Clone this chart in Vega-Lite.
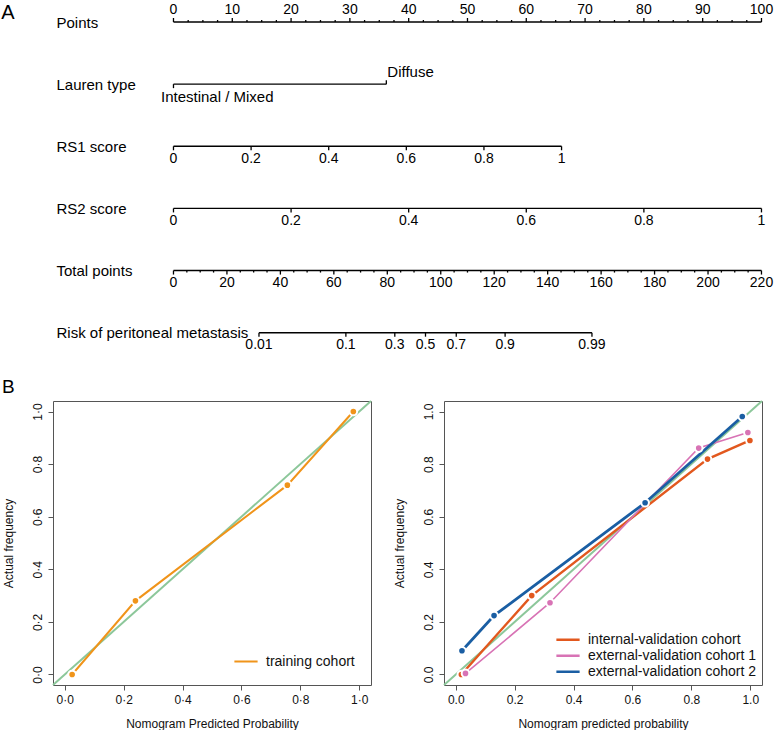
{
  "$schema": "https://vega.github.io/schema/vega-lite/v6.json",
  "padding": {"left": 1, "top": 0, "right": 0, "bottom": 0},
  "bounds": "flush",
  "spacing": 41,
  "resolve": {"scale": {"x": "independent", "y": "independent", "stroke": "independent", "fill": "independent"}, "legend": {"stroke": "independent"}},
  "datasets": {
    "lines": [
      {"axis": "Points", "from": 0, "to": 100},
      {"axis": "Lauren type", "from": 0, "to": 36.2},
      {"axis": "RS1 score", "from": 0, "to": 66},
      {"axis": "RS2 score", "from": 0, "to": 100},
      {"axis": "Total points", "from": 0, "to": 100},
      {"axis": "Risk of peritoneal metastasis", "from": 14.54, "to": 71.17}
    ],
    "ticks": [
      {"axis": "Points", "pts": 0, "tick": "up-major", "label": "0", "side": "above"},
      {"axis": "Points", "pts": 10, "tick": "up-major", "label": "10", "side": "above"},
      {"axis": "Points", "pts": 20, "tick": "up-major", "label": "20", "side": "above"},
      {"axis": "Points", "pts": 30, "tick": "up-major", "label": "30", "side": "above"},
      {"axis": "Points", "pts": 40, "tick": "up-major", "label": "40", "side": "above"},
      {"axis": "Points", "pts": 50, "tick": "up-major", "label": "50", "side": "above"},
      {"axis": "Points", "pts": 60, "tick": "up-major", "label": "60", "side": "above"},
      {"axis": "Points", "pts": 70, "tick": "up-major", "label": "70", "side": "above"},
      {"axis": "Points", "pts": 80, "tick": "up-major", "label": "80", "side": "above"},
      {"axis": "Points", "pts": 90, "tick": "up-major", "label": "90", "side": "above"},
      {"axis": "Points", "pts": 100, "tick": "up-major", "label": "100", "side": "above"},
      {"axis": "Points", "pts": 2.5, "tick": "up-minor"},
      {"axis": "Points", "pts": 5, "tick": "up-minor"},
      {"axis": "Points", "pts": 7.5, "tick": "up-minor"},
      {"axis": "Points", "pts": 12.5, "tick": "up-minor"},
      {"axis": "Points", "pts": 15, "tick": "up-minor"},
      {"axis": "Points", "pts": 17.5, "tick": "up-minor"},
      {"axis": "Points", "pts": 22.5, "tick": "up-minor"},
      {"axis": "Points", "pts": 25, "tick": "up-minor"},
      {"axis": "Points", "pts": 27.5, "tick": "up-minor"},
      {"axis": "Points", "pts": 32.5, "tick": "up-minor"},
      {"axis": "Points", "pts": 35, "tick": "up-minor"},
      {"axis": "Points", "pts": 37.5, "tick": "up-minor"},
      {"axis": "Points", "pts": 42.5, "tick": "up-minor"},
      {"axis": "Points", "pts": 45, "tick": "up-minor"},
      {"axis": "Points", "pts": 47.5, "tick": "up-minor"},
      {"axis": "Points", "pts": 52.5, "tick": "up-minor"},
      {"axis": "Points", "pts": 55, "tick": "up-minor"},
      {"axis": "Points", "pts": 57.5, "tick": "up-minor"},
      {"axis": "Points", "pts": 62.5, "tick": "up-minor"},
      {"axis": "Points", "pts": 65, "tick": "up-minor"},
      {"axis": "Points", "pts": 67.5, "tick": "up-minor"},
      {"axis": "Points", "pts": 72.5, "tick": "up-minor"},
      {"axis": "Points", "pts": 75, "tick": "up-minor"},
      {"axis": "Points", "pts": 77.5, "tick": "up-minor"},
      {"axis": "Points", "pts": 82.5, "tick": "up-minor"},
      {"axis": "Points", "pts": 85, "tick": "up-minor"},
      {"axis": "Points", "pts": 87.5, "tick": "up-minor"},
      {"axis": "Points", "pts": 92.5, "tick": "up-minor"},
      {"axis": "Points", "pts": 95, "tick": "up-minor"},
      {"axis": "Points", "pts": 97.5, "tick": "up-minor"},
      {"axis": "Lauren type", "pts": 0, "tick": "down-major", "label": "Intestinal / Mixed", "side": "catBelow"},
      {"axis": "Lauren type", "pts": 36.2, "tick": "up-major", "label": "Diffuse", "side": "catAbove"},
      {"axis": "RS1 score", "pts": 0, "tick": "down-major", "label": "0", "side": "below"},
      {"axis": "RS1 score", "pts": 13.2, "tick": "down-major", "label": "0.2", "side": "below"},
      {"axis": "RS1 score", "pts": 26.4, "tick": "down-major", "label": "0.4", "side": "below"},
      {"axis": "RS1 score", "pts": 39.6, "tick": "down-major", "label": "0.6", "side": "below"},
      {"axis": "RS1 score", "pts": 52.8, "tick": "down-major", "label": "0.8", "side": "below"},
      {"axis": "RS1 score", "pts": 66, "tick": "down-major", "label": "1", "side": "below"},
      {"axis": "RS2 score", "pts": 0, "tick": "down-major", "label": "0", "side": "below"},
      {"axis": "RS2 score", "pts": 20, "tick": "down-major", "label": "0.2", "side": "below"},
      {"axis": "RS2 score", "pts": 40, "tick": "down-major", "label": "0.4", "side": "below"},
      {"axis": "RS2 score", "pts": 60, "tick": "down-major", "label": "0.6", "side": "below"},
      {"axis": "RS2 score", "pts": 80, "tick": "down-major", "label": "0.8", "side": "below"},
      {"axis": "RS2 score", "pts": 100, "tick": "down-major", "label": "1", "side": "below"},
      {"axis": "Total points", "pts": 0, "tick": "down-major", "label": "0", "side": "below"},
      {"axis": "Total points", "pts": 9.091, "tick": "down-major", "label": "20", "side": "below"},
      {"axis": "Total points", "pts": 18.182, "tick": "down-major", "label": "40", "side": "below"},
      {"axis": "Total points", "pts": 27.273, "tick": "down-major", "label": "60", "side": "below"},
      {"axis": "Total points", "pts": 36.364, "tick": "down-major", "label": "80", "side": "below"},
      {"axis": "Total points", "pts": 45.455, "tick": "down-major", "label": "100", "side": "below"},
      {"axis": "Total points", "pts": 54.545, "tick": "down-major", "label": "120", "side": "below"},
      {"axis": "Total points", "pts": 63.636, "tick": "down-major", "label": "140", "side": "below"},
      {"axis": "Total points", "pts": 72.727, "tick": "down-major", "label": "160", "side": "below"},
      {"axis": "Total points", "pts": 81.818, "tick": "down-major", "label": "180", "side": "below"},
      {"axis": "Total points", "pts": 90.909, "tick": "down-major", "label": "200", "side": "below"},
      {"axis": "Total points", "pts": 100, "tick": "down-major", "label": "220", "side": "below"},
      {"axis": "Total points", "pts": 2.273, "tick": "down-minor"},
      {"axis": "Total points", "pts": 4.545, "tick": "down-minor"},
      {"axis": "Total points", "pts": 6.818, "tick": "down-minor"},
      {"axis": "Total points", "pts": 11.364, "tick": "down-minor"},
      {"axis": "Total points", "pts": 13.636, "tick": "down-minor"},
      {"axis": "Total points", "pts": 15.909, "tick": "down-minor"},
      {"axis": "Total points", "pts": 20.455, "tick": "down-minor"},
      {"axis": "Total points", "pts": 22.727, "tick": "down-minor"},
      {"axis": "Total points", "pts": 25.0, "tick": "down-minor"},
      {"axis": "Total points", "pts": 29.545, "tick": "down-minor"},
      {"axis": "Total points", "pts": 31.818, "tick": "down-minor"},
      {"axis": "Total points", "pts": 34.091, "tick": "down-minor"},
      {"axis": "Total points", "pts": 38.636, "tick": "down-minor"},
      {"axis": "Total points", "pts": 40.909, "tick": "down-minor"},
      {"axis": "Total points", "pts": 43.182, "tick": "down-minor"},
      {"axis": "Total points", "pts": 47.727, "tick": "down-minor"},
      {"axis": "Total points", "pts": 50.0, "tick": "down-minor"},
      {"axis": "Total points", "pts": 52.273, "tick": "down-minor"},
      {"axis": "Total points", "pts": 56.818, "tick": "down-minor"},
      {"axis": "Total points", "pts": 59.091, "tick": "down-minor"},
      {"axis": "Total points", "pts": 61.364, "tick": "down-minor"},
      {"axis": "Total points", "pts": 65.909, "tick": "down-minor"},
      {"axis": "Total points", "pts": 68.182, "tick": "down-minor"},
      {"axis": "Total points", "pts": 70.455, "tick": "down-minor"},
      {"axis": "Total points", "pts": 75.0, "tick": "down-minor"},
      {"axis": "Total points", "pts": 77.273, "tick": "down-minor"},
      {"axis": "Total points", "pts": 79.545, "tick": "down-minor"},
      {"axis": "Total points", "pts": 84.091, "tick": "down-minor"},
      {"axis": "Total points", "pts": 86.364, "tick": "down-minor"},
      {"axis": "Total points", "pts": 88.636, "tick": "down-minor"},
      {"axis": "Total points", "pts": 93.182, "tick": "down-minor"},
      {"axis": "Total points", "pts": 95.455, "tick": "down-minor"},
      {"axis": "Total points", "pts": 97.727, "tick": "down-minor"},
      {"axis": "Risk of peritoneal metastasis", "pts": 14.54, "tick": "down-major", "label": "0.01", "side": "below"},
      {"axis": "Risk of peritoneal metastasis", "pts": 29.32, "tick": "down-major", "label": "0.1", "side": "below"},
      {"axis": "Risk of peritoneal metastasis", "pts": 37.64, "tick": "down-major", "label": "0.3", "side": "below"},
      {"axis": "Risk of peritoneal metastasis", "pts": 42.86, "tick": "down-major", "label": "0.5", "side": "below"},
      {"axis": "Risk of peritoneal metastasis", "pts": 48.09, "tick": "down-major", "label": "0.7", "side": "below"},
      {"axis": "Risk of peritoneal metastasis", "pts": 56.40, "tick": "down-major", "label": "0.9", "side": "below"},
      {"axis": "Risk of peritoneal metastasis", "pts": 71.17, "tick": "down-major", "label": "0.99", "side": "below"}
    ],
    "calib": [
      {"panel": "train", "cohort": "training cohort", "pred": 0.025, "actual": 0.0},
      {"panel": "train", "cohort": "training cohort", "pred": 0.24, "actual": 0.28},
      {"panel": "train", "cohort": "training cohort", "pred": 0.756, "actual": 0.72},
      {"panel": "train", "cohort": "training cohort", "pred": 0.98, "actual": 1.0},
      {"panel": "valid", "cohort": "internal-validation cohort", "pred": 0.019, "actual": 0.0},
      {"panel": "valid", "cohort": "internal-validation cohort", "pred": 0.258, "actual": 0.30},
      {"panel": "valid", "cohort": "internal-validation cohort", "pred": 0.855, "actual": 0.819},
      {"panel": "valid", "cohort": "internal-validation cohort", "pred": 0.999, "actual": 0.89},
      {"panel": "valid", "cohort": "external-validation cohort 1", "pred": 0.033, "actual": 0.004},
      {"panel": "valid", "cohort": "external-validation cohort 1", "pred": 0.32, "actual": 0.273},
      {"panel": "valid", "cohort": "external-validation cohort 1", "pred": 0.825, "actual": 0.861},
      {"panel": "valid", "cohort": "external-validation cohort 1", "pred": 0.992, "actual": 0.92},
      {"panel": "valid", "cohort": "external-validation cohort 2", "pred": 0.021, "actual": 0.09},
      {"panel": "valid", "cohort": "external-validation cohort 2", "pred": 0.13, "actual": 0.224},
      {"panel": "valid", "cohort": "external-validation cohort 2", "pred": 0.643, "actual": 0.653},
      {"panel": "valid", "cohort": "external-validation cohort 2", "pred": 0.973, "actual": 0.981}
    ]
  },
  "vconcat": [
    {
      "width": 724,
      "height": 360,
      "view": {"stroke": null},
      "encoding": {
        "y": {
          "field": "axis",
          "type": "nominal",
          "scale": {"type": "point", "domain": ["Points", "Lauren type", "RS1 score", "RS2 score", "Total points", "Risk of peritoneal metastasis"], "range": [22, 332.7], "padding": 0},
          "axis": {"title": null, "domain": false, "ticks": false, "tickSize": 0, "labelAlign": "left", "labelBaseline": "middle", "labelAngle": 0, "labelPadding": -3, "labelFontSize": 15, "labelLimit": 400, "labelColor": "black"}
        }
      },
      "layer": [
        {
          "data": {"name": "lines"},
          "mark": {"type": "rule", "color": "black", "strokeWidth": 1.4},
          "encoding": {
            "x": {"field": "from", "type": "quantitative", "scale": {"domain": [-20.49, 102.64], "nice": false, "zero": false}, "axis": null},
            "x2": {"field": "to"}
          }
        },
        {
          "data": {"name": "ticks"},
          "transform": [{"filter": "datum.tick == 'up-major'"}],
          "mark": {"type": "rule", "color": "black", "strokeWidth": 1.3, "y2Offset": -4},
          "encoding": {
            "x": {"field": "pts", "type": "quantitative", "scale": {"domain": [-20.49, 102.64], "nice": false, "zero": false}, "axis": null},
            "y2": {"field": "axis"}
          }
        },
        {
          "data": {"name": "ticks"},
          "transform": [{"filter": "datum.tick == 'up-minor'"}],
          "mark": {"type": "rule", "color": "black", "strokeWidth": 1.3, "y2Offset": -2},
          "encoding": {
            "x": {"field": "pts", "type": "quantitative", "scale": {"domain": [-20.49, 102.64], "nice": false, "zero": false}, "axis": null},
            "y2": {"field": "axis"}
          }
        },
        {
          "data": {"name": "ticks"},
          "transform": [{"filter": "datum.tick == 'down-major'"}],
          "mark": {"type": "rule", "color": "black", "strokeWidth": 1.3, "y2Offset": 4},
          "encoding": {
            "x": {"field": "pts", "type": "quantitative", "scale": {"domain": [-20.49, 102.64], "nice": false, "zero": false}, "axis": null},
            "y2": {"field": "axis"}
          }
        },
        {
          "data": {"name": "ticks"},
          "transform": [{"filter": "datum.tick == 'down-minor'"}],
          "mark": {"type": "rule", "color": "black", "strokeWidth": 1.3, "y2Offset": 2},
          "encoding": {
            "x": {"field": "pts", "type": "quantitative", "scale": {"domain": [-20.49, 102.64], "nice": false, "zero": false}, "axis": null},
            "y2": {"field": "axis"}
          }
        },
        {
          "data": {"name": "ticks"},
          "transform": [{"filter": "datum.side == 'above'"}],
          "mark": {"type": "text", "color": "black", "fontSize": 14, "align": "center", "baseline": "middle", "dy": -12},
          "encoding": {
            "x": {"field": "pts", "type": "quantitative", "scale": {"domain": [-20.49, 102.64], "nice": false, "zero": false}, "axis": null},
            "text": {"field": "label"}
          }
        },
        {
          "data": {"name": "ticks"},
          "transform": [{"filter": "datum.side == 'below'"}],
          "mark": {"type": "text", "color": "black", "fontSize": 14, "align": "center", "baseline": "middle", "dy": 12.7},
          "encoding": {
            "x": {"field": "pts", "type": "quantitative", "scale": {"domain": [-20.49, 102.64], "nice": false, "zero": false}, "axis": null},
            "text": {"field": "label"}
          }
        },
        {
          "data": {"name": "ticks"},
          "transform": [{"filter": "datum.side == 'catAbove'"}],
          "mark": {"type": "text", "color": "black", "fontSize": 15, "align": "left", "baseline": "middle", "dy": -12.3, "dx": 1},
          "encoding": {
            "x": {"field": "pts", "type": "quantitative", "scale": {"domain": [-20.49, 102.64], "nice": false, "zero": false}, "axis": null},
            "text": {"field": "label"}
          }
        },
        {
          "data": {"name": "ticks"},
          "transform": [{"filter": "datum.side == 'catBelow'"}],
          "mark": {"type": "text", "color": "black", "fontSize": 15, "align": "left", "baseline": "middle", "dy": 13.3, "dx": -12.5},
          "encoding": {
            "x": {"field": "pts", "type": "quantitative", "scale": {"domain": [-20.49, 102.64], "nice": false, "zero": false}, "axis": null},
            "text": {"field": "label"}
          }
        },
        {
          "data": {"values": [{}]},
          "mark": {"type": "text", "text": "A", "color": "black", "fontSize": 20, "align": "left", "baseline": "alphabetic", "dy": -3},
          "encoding": {
            "x": {"datum": -29.3, "type": "quantitative", "scale": {"domain": [-20.49, 102.64], "nice": false, "zero": false}, "axis": null},
            "y": {"datum": "Points"}
          }
        }
      ]
    },
    {
      "hconcat": [
        {
          "width": 318,
          "height": 284,
          "layer": [
            {
              "data": {"values": [{}]},
              "mark": {"type": "rule", "color": "#8CC79A", "strokeWidth": 2},
              "encoding": {
                "x": {"datum": -0.04, "type": "quantitative", "scale": {"domain": [-0.04, 1.04], "nice": false, "zero": false},
                  "axis": {"values": [0, 0.2, 0.4, 0.6, 0.8, 1], "labelExpr": "replace(format(datum.value, '.1f'), '.', '·')", "title": "Nomogram Predicted Probability", "labelPadding": 4, "titlePadding": 13}},
                "y": {"datum": -0.04, "type": "quantitative", "scale": {"domain": [-0.04, 1.04], "nice": false, "zero": false},
                  "axis": {"values": [0, 0.2, 0.4, 0.6, 0.8, 1], "labelExpr": "replace(format(datum.value, '.1f'), '.', '·')", "title": "Actual frequency", "labelPadding": 4, "titlePadding": 16}},
                "x2": {"datum": 1.04},
                "y2": {"datum": 1.04}
              }
            },
            {
              "data": {"name": "calib"},
              "transform": [{"filter": "datum.panel == 'train'"}],
              "mark": {"type": "line", "strokeWidth": 2},
              "encoding": {
                "x": {"field": "pred", "type": "quantitative", "scale": {"domain": [-0.04, 1.04], "nice": false, "zero": false}},
                "y": {"field": "actual", "type": "quantitative", "scale": {"domain": [-0.04, 1.04], "nice": false, "zero": false}},
                "stroke": {"field": "cohort", "type": "nominal", "scale": {"domain": ["training cohort"], "range": ["#F0941A"]},
                  "legend": {"title": null, "orient": "bottom-right", "offset": 16, "symbolType": "stroke", "symbolSize": 540, "symbolStrokeWidth": 2, "labelFontSize": 14, "labelOffset": 7, "padding": 0, "labelLimit": 400, "rowPadding": 0, "clipHeight": 15, "labelColor": "#111"}}
              }
            },
            {
              "data": {"name": "calib"},
              "transform": [{"filter": "datum.panel == 'train'"}],
              "mark": {"type": "point", "filled": true, "size": 58, "stroke": "white", "strokeWidth": 2, "opacity": 1},
              "encoding": {
                "x": {"field": "pred", "type": "quantitative", "scale": {"domain": [-0.04, 1.04], "nice": false, "zero": false}},
                "y": {"field": "actual", "type": "quantitative", "scale": {"domain": [-0.04, 1.04], "nice": false, "zero": false}},
                "fill": {"field": "cohort", "type": "nominal", "scale": {"domain": ["training cohort"], "range": ["#F0941A"]}, "legend": null}
              }
            },
            {
              "data": {"values": [{}]},
              "mark": {"type": "text", "text": "B", "color": "black", "fontSize": 19, "align": "left", "baseline": "alphabetic"},
              "encoding": {
                "x": {"datum": -0.213, "type": "quantitative"},
                "y": {"datum": 1.0693, "type": "quantitative"}
              }
            }
          ]
        },
        {
          "width": 318,
          "height": 284,
          "layer": [
            {
              "data": {"values": [{}]},
              "mark": {"type": "rule", "color": "#8CC79A", "strokeWidth": 2},
              "encoding": {
                "x": {"datum": -0.04, "type": "quantitative", "scale": {"domain": [-0.04, 1.04], "nice": false, "zero": false},
                  "axis": {"values": [0, 0.2, 0.4, 0.6, 0.8, 1], "format": ".1f", "title": "Nomogram predicted probability", "labelPadding": 4, "titlePadding": 13}},
                "y": {"datum": -0.04, "type": "quantitative", "scale": {"domain": [-0.04, 1.04], "nice": false, "zero": false},
                  "axis": {"values": [0, 0.2, 0.4, 0.6, 0.8, 1], "format": ".1f", "title": "Actual frequency", "labelPadding": 4, "titlePadding": 16}},
                "x2": {"datum": 1.04},
                "y2": {"datum": 1.04}
              }
            },
            {
              "data": {"name": "calib"},
              "transform": [{"filter": "datum.cohort == 'internal-validation cohort'"}],
              "mark": {"type": "line", "strokeWidth": 2.4},
              "encoding": {
                "x": {"field": "pred", "type": "quantitative", "scale": {"domain": [-0.04, 1.04], "nice": false, "zero": false}},
                "y": {"field": "actual", "type": "quantitative", "scale": {"domain": [-0.04, 1.04], "nice": false, "zero": false}},
                "stroke": {"field": "cohort", "type": "nominal",
                  "scale": {"domain": ["internal-validation cohort", "external-validation cohort 1", "external-validation cohort 2"], "range": ["#E2581E", "#D873B5", "#1A5EA3"]},
                  "legend": {"title": null, "orient": "bottom-right", "offset": 5, "symbolType": "stroke", "symbolSize": 540, "symbolStrokeWidth": 2.4, "labelFontSize": 14, "labelOffset": 7, "padding": 0, "labelLimit": 400, "rowPadding": 0, "clipHeight": 15.5, "labelColor": "#111"}}
              }
            },
            {
              "data": {"name": "calib"},
              "transform": [{"filter": "datum.cohort == 'external-validation cohort 1'"}],
              "mark": {"type": "line", "strokeWidth": 1.6},
              "encoding": {
                "x": {"field": "pred", "type": "quantitative", "scale": {"domain": [-0.04, 1.04], "nice": false, "zero": false}},
                "y": {"field": "actual", "type": "quantitative", "scale": {"domain": [-0.04, 1.04], "nice": false, "zero": false}},
                "stroke": {"field": "cohort", "type": "nominal",
                  "scale": {"domain": ["internal-validation cohort", "external-validation cohort 1", "external-validation cohort 2"], "range": ["#E2581E", "#D873B5", "#1A5EA3"]}}
              }
            },
            {
              "data": {"name": "calib"},
              "transform": [{"filter": "datum.cohort == 'external-validation cohort 2'"}],
              "mark": {"type": "line", "strokeWidth": 2.8},
              "encoding": {
                "x": {"field": "pred", "type": "quantitative", "scale": {"domain": [-0.04, 1.04], "nice": false, "zero": false}},
                "y": {"field": "actual", "type": "quantitative", "scale": {"domain": [-0.04, 1.04], "nice": false, "zero": false}},
                "stroke": {"field": "cohort", "type": "nominal",
                  "scale": {"domain": ["internal-validation cohort", "external-validation cohort 1", "external-validation cohort 2"], "range": ["#E2581E", "#D873B5", "#1A5EA3"]}}
              }
            },
            {
              "data": {"name": "calib"},
              "transform": [{"filter": "datum.panel == 'valid'"}],
              "mark": {"type": "point", "filled": true, "size": 58, "stroke": "white", "strokeWidth": 2, "opacity": 1},
              "encoding": {
                "x": {"field": "pred", "type": "quantitative", "scale": {"domain": [-0.04, 1.04], "nice": false, "zero": false}},
                "y": {"field": "actual", "type": "quantitative", "scale": {"domain": [-0.04, 1.04], "nice": false, "zero": false}},
                "fill": {"field": "cohort", "type": "nominal",
                  "scale": {"domain": ["internal-validation cohort", "external-validation cohort 1", "external-validation cohort 2"], "range": ["#E2581E", "#D873B5", "#1A5EA3"]}, "legend": null}
              }
            }
          ]
        }
      ],
      "spacing": 73,
      "bounds": "flush",
      "resolve": {"scale": {"x": "independent", "y": "independent", "stroke": "independent", "fill": "independent"}, "legend": {"stroke": "independent"}}
    }
  ],
  "config": {
    "font": "Liberation Sans",
    "view": {"stroke": "#555", "strokeWidth": 1},
    "axis": {"domain": false, "grid": false, "tickColor": "#555", "tickSize": 5, "labelFontSize": 12, "titleFontSize": 12, "titleFontWeight": "normal", "labelColor": "#111", "titleColor": "#111"},
    "axisY": {"labelAngle": 270, "labelAlign": "center", "labelBaseline": "bottom"}
  }
}
